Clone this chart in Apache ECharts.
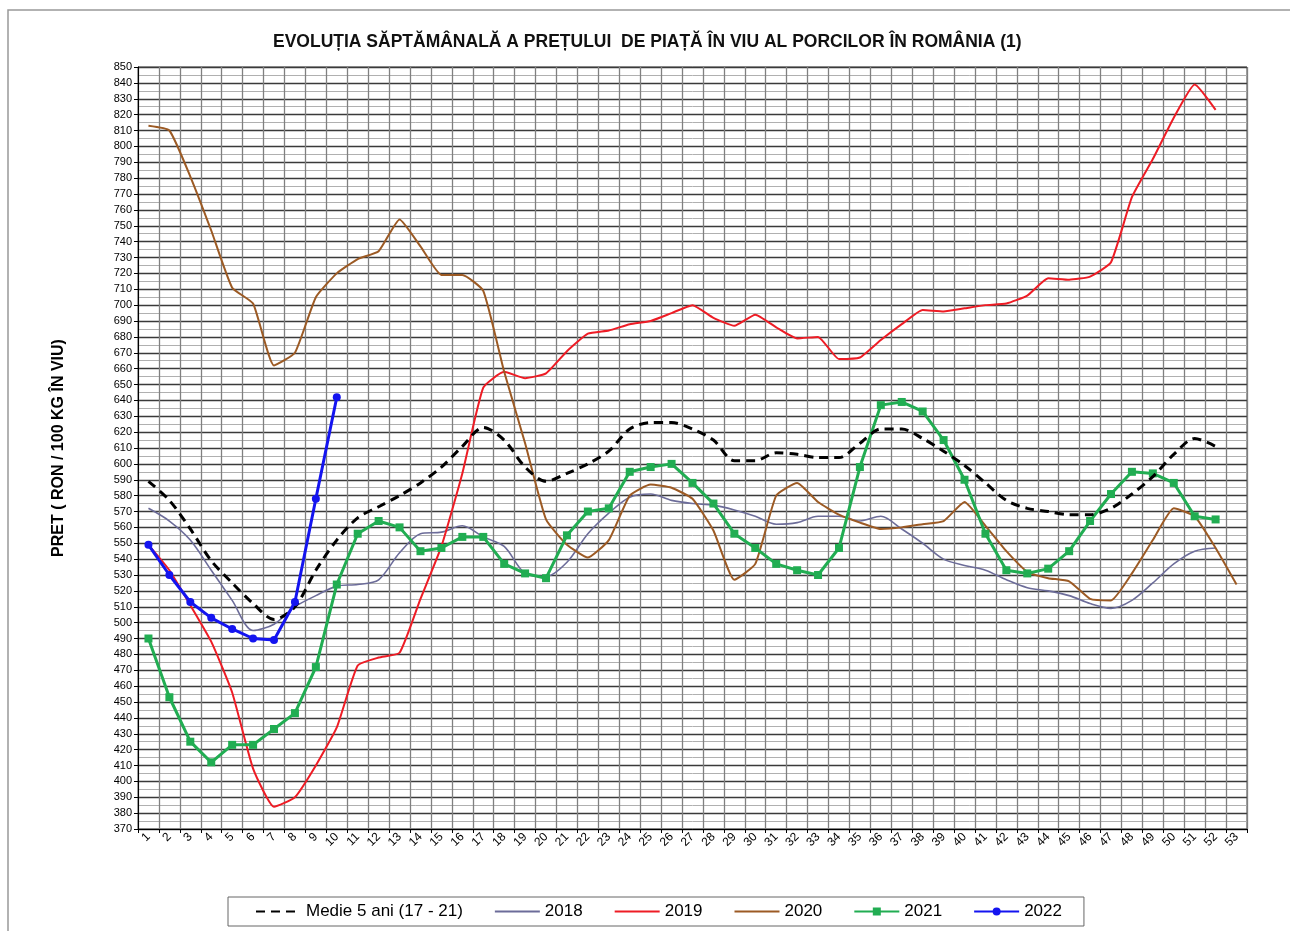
<!DOCTYPE html>
<html>
<head>
<meta charset="utf-8">
<script src="https://cdn.jsdelivr.net/npm/echarts@6/dist/echarts.min.js"></script>
<style>
html,body{margin:0;padding:0;background:#fff;}
#chart{width:1290px;height:931px;}
</style>
</head>
<body>
<div id="chart"></div>
<script>
const weeks = Array.from({length: 53}, (_, i) => String(i + 1));

const medie5 = [589, 577, 559, 539, 525, 512, 502, 510, 533, 552, 566, 573, 580, 588, 598, 611, 623, 615, 598, 589, 594, 600, 608, 622, 626, 626, 622, 615, 602, 602, 607, 606, 604, 604, 613, 622, 622, 616, 608, 599, 588, 577, 572, 570, 568, 568, 572, 581, 592, 606, 616, 611];
const y2018 = [572, 564, 552, 533, 514, 495, 499, 510, 517, 523, 524, 527, 544, 556, 557, 561, 554, 548, 531, 529, 538, 556, 569, 579, 581, 577, 575, 574, 571, 567, 562, 563, 567, 567, 564, 567, 559, 550, 540, 536, 533, 527, 522, 520, 517, 512, 509, 514, 525, 537, 545, 547];
const y2019 = [549, 533, 511, 488, 456, 408, 384, 390, 410, 434, 473, 478, 481, 515, 548, 594, 648, 658, 654, 657, 671, 682, 684, 688, 690, 695, 700, 692, 687, 694, 686, 679, 680, 666, 667, 678, 688, 697, 696, 698, 700, 701, 706, 717, 716, 718, 727, 768, 792, 818, 839, 823];
const y2020 = [813, 810, 781, 747, 711, 701, 662, 670, 705, 720, 729, 734, 754, 737, 719, 719, 709, 658, 613, 565, 549, 541, 552, 580, 587, 585, 578, 558, 527, 537, 580, 588, 576, 568, 563, 559, 560, 562, 564, 576, 561, 545, 532, 528, 526, 515, 514, 531, 552, 572, 567, 547, 524];
const y2021 = [490, 453, 425, 412, 423, 423, 433, 443, 472, 524, 556, 564, 560, 545, 547, 554, 554, 537, 531, 528, 555, 570, 572, 595, 598, 600, 588, 575, 556, 547, 537, 533, 530, 547, 598, 637, 639, 633, 615, 590, 556, 533, 531, 534, 545, 564, 581, 595, 594, 588, 567, 565];
const y2022 = [549, 530, 513, 503, 496, 490, 489, 513, 578, 642];

const names = ['Medie 5 ani (17 - 21)', '2018', '2019', '2020', '2021', '2022'];

const chart = echarts.init(document.getElementById('chart'), null, {renderer: 'canvas'});
const FONT = 'Liberation Sans, Arial, sans-serif';
const noMarker = {opacity: 0, borderWidth: 0};

chart.setOption({
  animation: false,
  backgroundColor: '#fff',
  textStyle: {fontFamily: FONT},
  title: {
    text: 'EVOLUȚIA SĂPTĂMÂNALĂ A PREȚULUI  DE PIAȚĂ ÎN VIU AL PORCILOR ÎN ROMÂNIA (1)',
    left: 268,
    top: 28,
    textStyle: {fontFamily: FONT, fontSize: 17.5, fontWeight: 'bold', color: '#111'}
  },
  graphic: [{
    type: 'rect',
    shape: {x: 8, y: 10, width: 1300, height: 940},
    style: {fill: 'none', stroke: '#999', lineWidth: 1.5},
    silent: true, z: -1
  }],
  legend: {
    data: [
      {name: names[0], itemStyle: noMarker},
      {name: names[1], itemStyle: noMarker},
      {name: names[2], itemStyle: noMarker},
      {name: names[3], itemStyle: noMarker},
      {name: names[4]},
      {name: names[5]}
    ],
    left: 228,
    top: 897,
    padding: [6, 22, 6, 27],
    itemGap: 31,
    itemWidth: 45,
    itemHeight: 10,
    borderColor: '#666',
    borderWidth: 1,
    textStyle: {fontFamily: FONT, fontSize: 17, color: '#000'}
  },
  grid: {
    left: 138, right: 43, top: 67, bottom: 102,
    show: true, borderColor: '#444', borderWidth: 1
  },
  xAxis: {
    type: 'category',
    data: weeks,
    boundaryGap: true,
    axisLine: {lineStyle: {color: '#000'}},
    axisTick: {show: true, length: 4, lineStyle: {color: '#000'}},
    axisLabel: {rotate: 45, fontSize: 12, color: '#000', fontFamily: FONT, margin: 6, interval: 0},
    splitLine: {show: true, interval: 0, lineStyle: {color: '#808080', width: 1.3}}
  },
  yAxis: {
    type: 'value',
    min: 370, max: 850, interval: 10,
    name: 'PRET ( RON / 100 KG ÎN VIU)',
    nameLocation: 'middle',
    nameGap: 71,
    nameRotate: 90,
    nameTextStyle: {fontFamily: FONT, fontSize: 16, fontWeight: 'bold', color: '#000'},
    axisLine: {show: true, lineStyle: {color: '#000'}},
    axisTick: {show: true, length: 4, lineStyle: {color: '#000'}},
    axisLabel: {fontSize: 11, color: '#000', fontFamily: FONT, margin: 6},
    splitLine: {show: true, lineStyle: {color: '#3a3a3a', width: 1.3}},
    minorTick: {show: false, splitNumber: 2},
    minorSplitLine: {show: true, lineStyle: {color: '#b0b0b0', width: 1}}
  },
  series: [
    {name: names[0], type: 'line', data: medie5, symbol: 'none', smooth: 0.3, z: 5,
     lineStyle: {color: '#000', width: 3, type: [9, 6]}, itemStyle: {color: '#000'}},
    {name: names[1], type: 'line', data: y2018, symbol: 'none', smooth: 0.3, z: 2,
     lineStyle: {color: '#6c6c99', width: 1.6}, itemStyle: {color: '#6c6c99'}},
    {name: names[2], type: 'line', data: y2019, symbol: 'none', smooth: 0.15, z: 3,
     lineStyle: {color: '#ee1c25', width: 2}, itemStyle: {color: '#ee1c25'}},
    {name: names[3], type: 'line', data: y2020, symbol: 'none', smooth: 0.15, z: 3,
     lineStyle: {color: '#9c5a24', width: 2}, itemStyle: {color: '#9c5a24'}},
    {name: names[4], type: 'line', data: y2021, symbol: 'rect', symbolSize: 8, z: 4,
     lineStyle: {color: '#21ad52', width: 3}, itemStyle: {color: '#21ad52'}},
    {name: names[5], type: 'line', data: y2022, symbol: 'circle', symbolSize: 8, z: 6,
     lineStyle: {color: '#1414f0', width: 3}, itemStyle: {color: '#1414f0'}}
  ]
});
</script>
</body>
</html>
